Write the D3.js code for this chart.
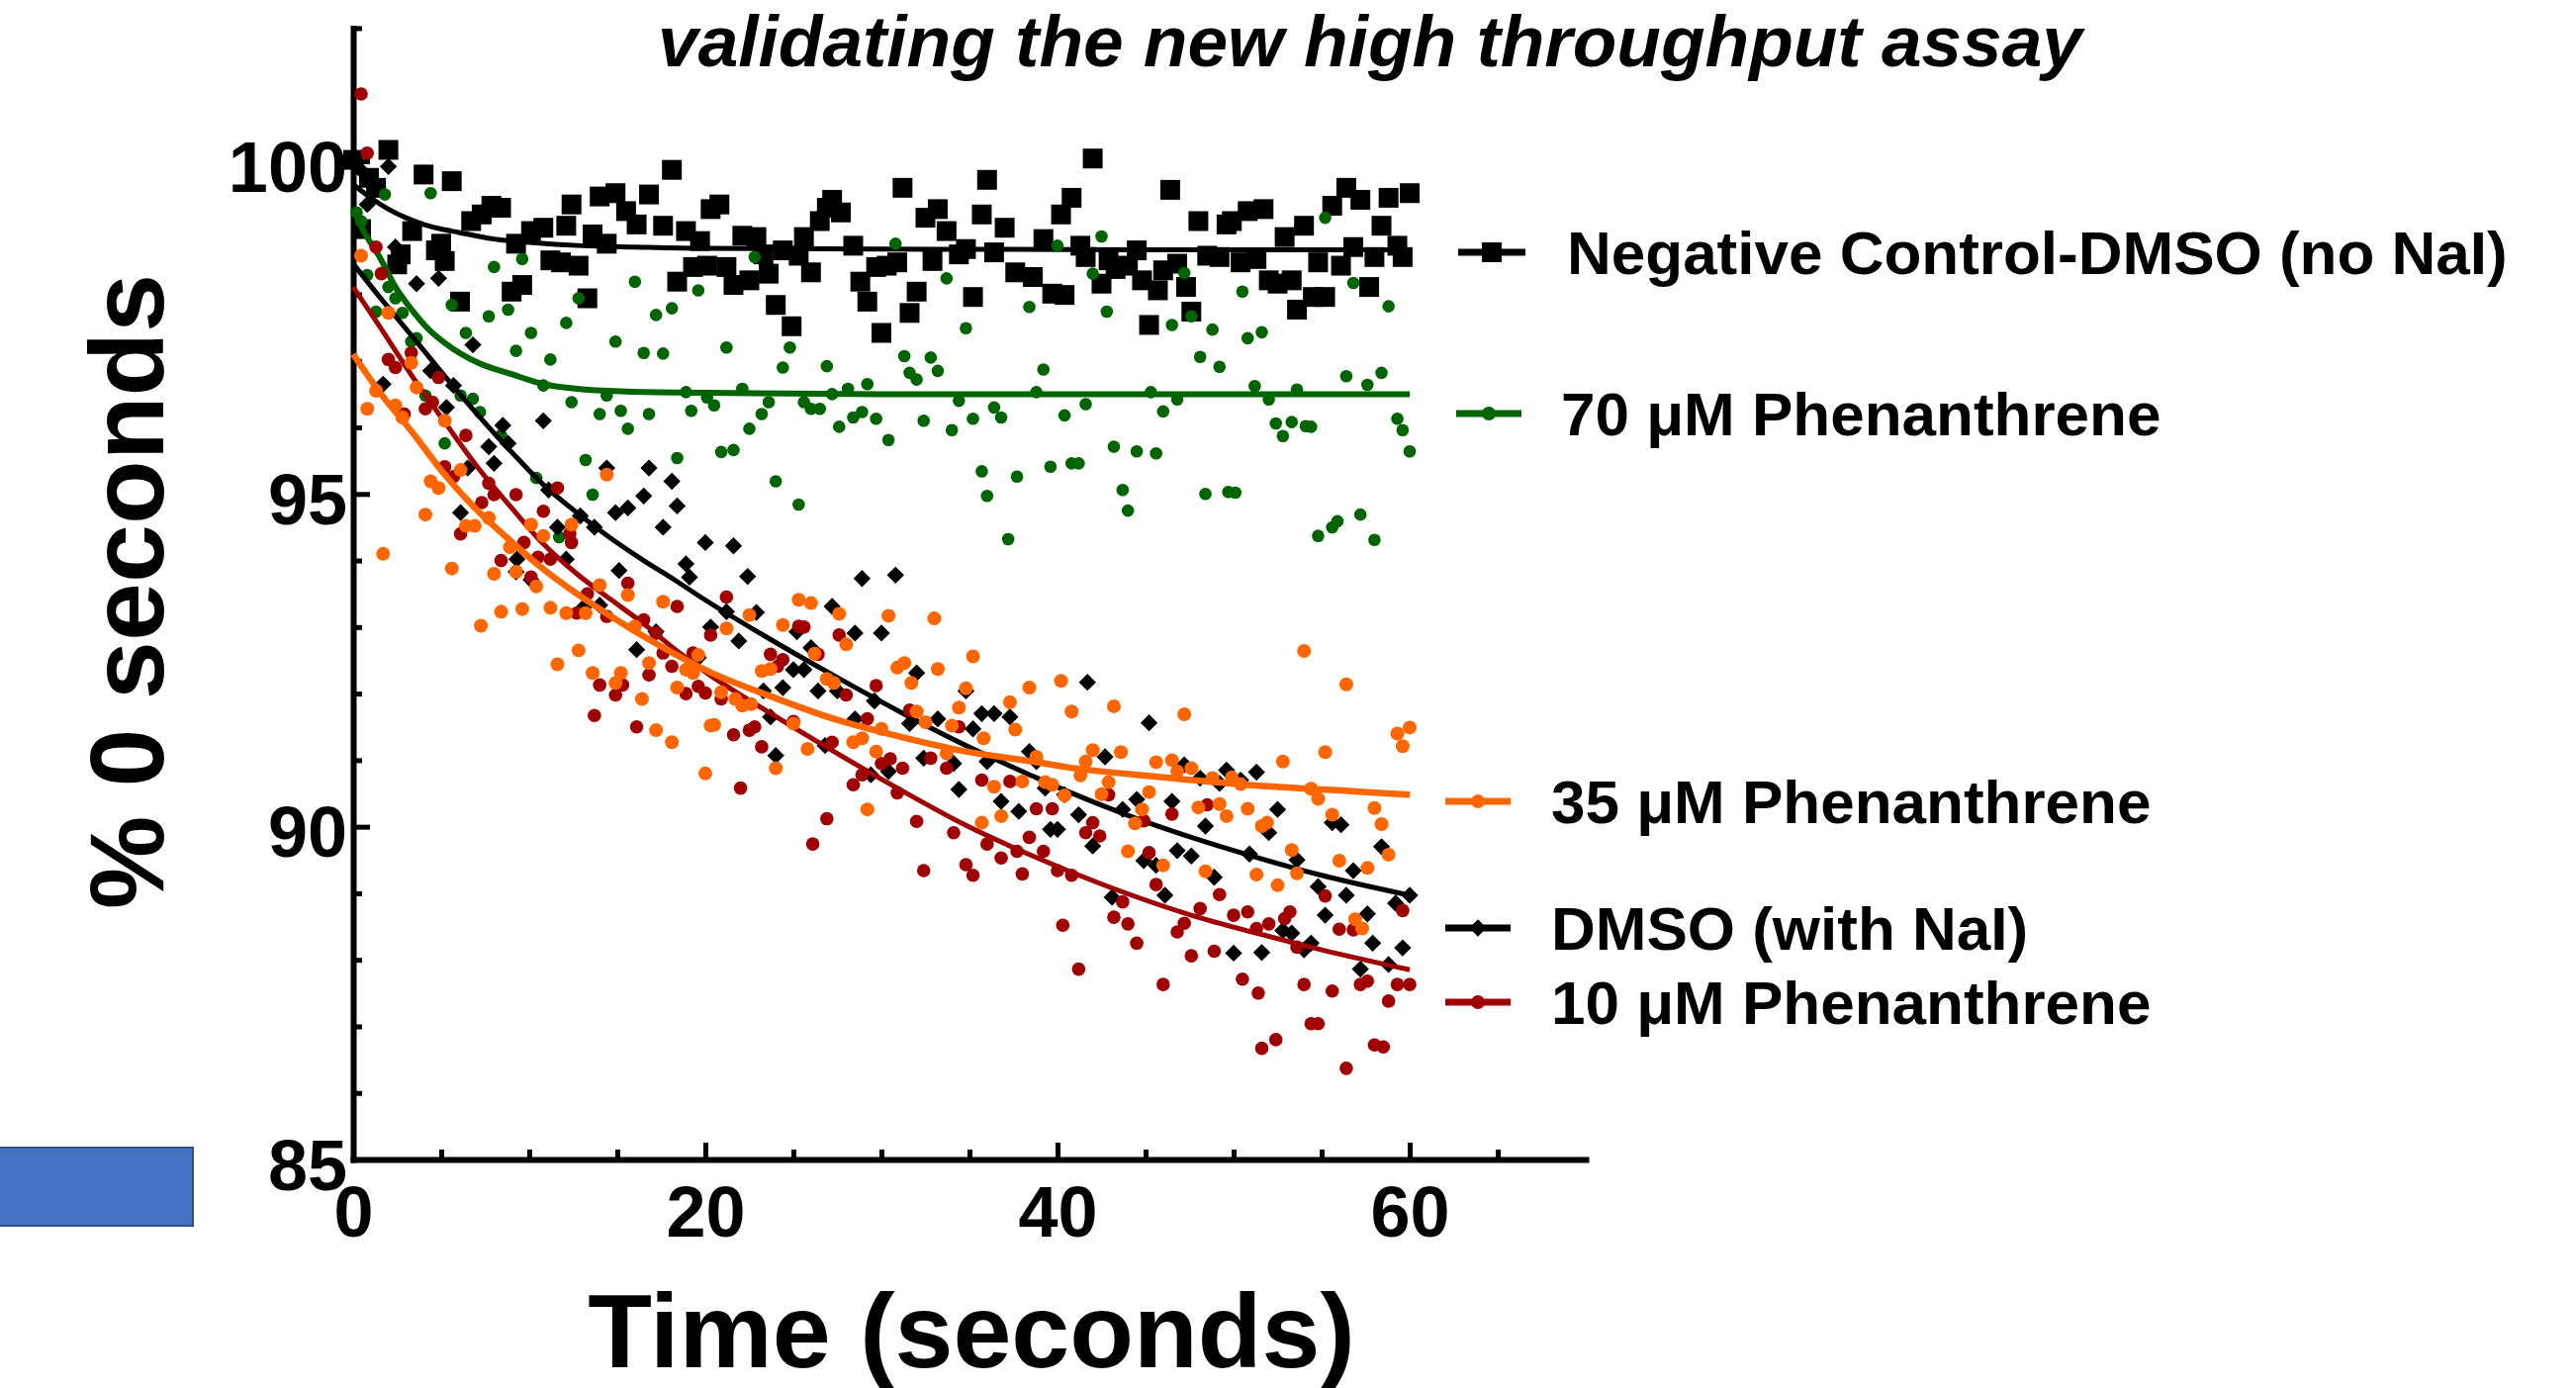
<!DOCTYPE html>
<html><head><meta charset="utf-8">
<script src="https://cdn.jsdelivr.net/npm/d3@7"></script>
<style>
html,body{margin:0;padding:0;background:#fff;}
svg{display:block;}
text{font-family:"Liberation Sans",Arial,Helvetica,sans-serif;font-weight:bold;fill:#000;}
</style>
</head><body>
<svg id="chart" width="2604" height="1403"></svg>
<script>
// ---------------- DATA ----------------
const chartTitle = "validating the new high throughput assay";
const xAxisTitle = "Time (seconds)";
const yAxisTitle = "% 0 seconds";
const xMajorTicks = [0, 20, 40, 60];
const xMinorTicks = [5, 10, 15, 25, 30, 35, 45, 50, 55, 65];
const yMajorTicks = [85, 90, 95, 100];
const yMinorTicks = [86, 87, 88, 89, 91, 92, 93, 94, 96, 97, 98, 99, 101, 102];
const legendLabels = ["Negative Control-DMSO (no NaI)", "70 \u03bcM Phenanthrene", "35 \u03bcM Phenanthrene", "DMSO (with NaI)", "10 \u03bcM Phenanthrene"];

const negControl = [[0,100.02],[0.45,98.98],[0.9,99.75],[1.3,99.6],[2.0,100.17],[2.5,98.45],[2.7,98.6],[3.35,98.95],[4.0,99.8],[4.7,98.66],[5.0,98.76],[5.2,98.5],[5.6,99.7],[6.07,97.89],[6.7,99.1],[7.3,99.2],[7.85,99.33],[8.4,99.3],[9.0,98.04],[9.25,98.76],[9.6,98.14],[10.1,98.95],[10.8,99.0],[11.2,98.51],[11.8,98.48],[12.1,99.03],[12.4,99.35],[12.8,98.43],[13.3,97.94],[13.6,98.9],[14.0,99.47],[14.4,98.76],[14.9,99.52],[15.5,99.25],[16.1,99.05],[16.8,99.5],[17.6,99.03],[18.1,99.87],[18.4,98.19],[18.9,98.95],[19.3,98.41],[19.7,98.8],
[20.1,98.43],[20.3,99.28],[20.8,99.35],[21.2,98.41],[21.6,98.14],[22.1,98.88],[22.5,98.21],[22.9,98.86],[23.3,98.6],[23.6,98.31],[24.0,97.84],[24.4,98.66],[24.9,97.52],[25.3,98.58],[25.6,98.86],[26.0,98.33],[26.5,99.1],[26.9,99.3],[27.2,99.42],[27.7,99.23],[28.4,98.73],[28.8,98.19],[29.2,97.89],[29.7,98.41],[30.0,97.42],[30.3,98.43],[30.9,98.48],[31.2,99.6],[31.6,97.72],[32.0,98.04],[32.5,99.15],[32.9,98.5],[33.2,99.28],[33.7,98.95],[34.4,98.6],[34.8,98.68],[35.2,97.96],[35.7,99.2],[36.0,99.72],[36.4,98.63],[37.0,99.0],[37.6,98.33],[38.6,98.26],[39.2,98.83],[39.7,98.01],
[40.2,99.2],[40.4,97.99],[40.8,99.45],[41.3,98.73],[41.6,98.56],[42.0,100.04],[42.5,98.16],[42.9,98.51],[43.3,98.38],[44.0,98.43],[44.5,98.66],[44.8,98.21],[45.2,97.54],[45.7,98.06],[46.0,98.36],[46.4,99.57],[46.8,98.46],[47.3,98.11],[47.6,97.74],[48.0,99.1],[48.5,98.58],[49.2,98.56],[49.6,99.05],[49.9,99.1],[50.4,98.48],[50.8,99.25],[51.3,98.53],[51.7,99.28],[52.0,98.21],[52.5,98.16],[52.9,98.86],[53.3,98.21],[53.6,97.77],[54.0,99.03],[54.5,97.96],[54.8,98.48],[55.2,97.96],[55.6,99.33],[56.1,98.43],[56.4,99.6],[56.8,98.71],[57.2,99.42],[57.7,98.11],[58.0,98.56],[58.4,99.03],[58.8,99.45],[59.3,98.73],[59.6,98.56],[60.0,99.52]];

const phen70 = [[0.2,99.23],[0.45,99.1],[0.8,98.29],[1.3,97.74],[1.8,99.5],[2.0,98.11],[2.4,97.94],[2.8,97.72],[3.3,97.29],[3.6,97.34],[4.1,96.48],[4.4,99.52],[5.2,95.76],[5.6,97.84],[6.1,96.48],[6.4,97.42],[6.8,96.43],[7.2,96.23],[7.7,97.67],[8.0,98.41],[8.4,95.88],[8.8,97.77],[9.25,97.15],[9.6,98.53],[10.1,97.42],[10.4,95.24],[10.8,96.63],[11.2,97.02],[11.7,94.35],[12.1,97.57],[12.4,96.38],[12.8,97.94],[13.2,95.51],[13.6,94.99],[14.0,96.2],[14.4,96.48],[14.9,97.29],[15.2,96.25],[15.6,95.98],[16.0,98.19],[16.5,97.12],[16.8,96.2],[17.2,97.69],[17.6,97.11],[18.1,97.79],[18.4,95.54],[18.9,96.53],[19.2,96.25],[19.6,98.06],[20.1,96.45],[20.5,96.33],[20.9,95.63],[21.2,97.2],[21.6,95.66],[22.1,96.58],[22.5,95.98],[22.8,98.56],[23.2,96.2],[23.6,96.38],[24.0,95.19],[24.4,96.9],[24.8,97.2],[25.3,94.84],[25.6,96.38],[26.0,96.28],[26.5,96.28],[26.9,96.92],[27.2,96.5],[27.6,96.01],[28.1,96.58],[28.4,96.15],[28.9,96.23],[29.2,96.65],[29.7,96.13],[30.4,95.81],[30.8,98.76],[31.3,97.07],[31.6,96.82],[32.0,96.72],[32.4,96.1],[32.8,97.05],[33.2,96.85],[33.7,98.24],[34.0,95.96],[34.4,96.4],[34.8,97.49],[35.2,96.13],[35.7,95.34],[36.0,94.97],[36.4,96.3],[36.8,96.15],[37.2,94.32],[37.7,95.26],[38.4,97.81],[38.8,96.53],[39.2,96.87],[39.6,95.41],[40.0,98.73],[40.4,96.18],[40.8,95.46],[41.2,95.46],[41.6,96.35],[42.0,98.31],[42.5,98.87],[42.8,97.74],[43.2,95.71],[43.7,95.06],[44.0,94.75],[44.5,95.64],[45.3,96.53],[45.6,95.61],[46.0,96.24],[46.5,97.54],[46.8,96.42],[47.2,98.32],[47.6,97.67],[48.1,97.06],[48.4,95.0],[48.8,97.47],[49.2,96.91],[49.7,95.03],[50.1,95.02],[50.5,98.04],[50.8,97.34],[51.2,96.62],[51.6,97.43],[52.0,96.42],[52.4,96.06],[52.8,95.87],[53.3,96.08],[53.6,96.57],[54.1,96.02],[54.4,96.01],[54.8,94.37],[55.2,99.15],[55.6,94.5],[55.9,94.59],[56.4,96.77],[56.8,98.17],[57.2,94.69],[57.6,96.64],[58.0,94.31],[58.4,96.82],[58.8,97.82],[59.3,96.13],[59.6,95.96],[60.0,95.64]];

const phen35 = [[0.45,98.58],[0.8,96.28],[1.3,96.55],[1.7,94.1],[2.0,97.72],[2.4,96.33],[2.8,96.15],[3.3,96.97],[3.6,96.6],[4.1,94.69],[4.4,95.19],[4.85,95.09],[5.2,96.1],[5.6,93.88],[6.1,95.36],[6.4,94.52],[6.9,94.52],[7.25,93.02],[7.7,94.64],[8.0,93.8],[8.4,93.23],[8.9,94.2],[9.25,93.83],[9.6,93.27],[10.1,94.54],[10.4,93.61],[10.8,94.37],[11.2,93.29],[11.6,92.44],[12.1,93.21],[12.4,94.54],[12.8,92.65],[13.2,93.21],[13.6,92.31],[14.0,93.63],[14.4,95.29],[14.9,92.16],[15.2,92.31],[15.6,93.48],[16.0,93.01],[16.4,91.92],[16.8,92.46],[17.2,91.45],[17.6,93.38],[18.1,91.27],[18.4,92.09],[18.9,92.36],[19.3,92.31],[19.6,92.58],[20.0,90.8],[20.3,91.52],
[20.5,91.53],[20.9,92.02],[21.2,92.98],[21.7,91.92],[22.1,91.82],[22.5,93.18],[22.6,91.84],[23.2,92.34],[23.7,92.37],[24.0,90.88],[24.4,93.03],[25.0,91.55],[25.3,93.41],[25.8,91.17],[26.0,93.36],[26.2,92.6],[26.9,92.22],[27.3,92.16],[27.6,93.2],[28.0,92.74],[28.4,91.27],[28.9,91.33],[29.2,90.26],[29.7,91.13],[30.0,91.47],[30.4,93.17],[30.9,92.39],[31.3,92.46],[31.7,92.16],[32.0,91.73],[32.5,91.57],[33.0,93.13],[33.2,92.37],[33.7,91.1],[34.0,91.52],[34.4,91.79],[34.8,92.08],[35.2,92.56],[35.7,90.06],[35.8,91.33],[36.4,90.6],[36.8,90.16],[37.3,91.87],[37.6,91.46],[38.0,90.68],[38.4,92.09],[38.8,91.05],[39.3,90.67],[39.7,90.63],
[40.2,92.19],[40.4,90.47],[40.8,91.73],[41.3,90.77],[41.6,90.98],[42.0,91.15],[42.5,90.49],[42.9,90.67],[43.2,91.81],[43.6,91.12],[44.0,89.63],[44.4,90.05],[44.8,90.26],[45.2,90.52],[45.6,90.97],[46.0,89.42],[46.5,91.0],[46.8,90.83],[47.2,91.69],[47.6,90.88],[48.0,90.29],[48.4,89.33],[48.8,90.73],[49.2,90.34],[49.6,90.16],[49.9,90.74],[50.4,90.64],[50.8,90.27],[51.3,89.28],[51.6,90.01],[51.9,90.06],[52.5,89.12],[52.8,90.98],[53.3,89.65],[53.6,89.3],[54.0,92.64],[54.4,90.57],[54.8,90.42],[55.2,91.12],[55.6,90.18],[56.0,89.49],[56.4,92.14],[56.9,88.61],[57.3,88.47],[57.6,89.38],[58.0,90.28],[58.4,90.04],[58.8,89.58],[59.3,91.4],[59.6,91.21],[60.0,91.49]];

const dmsoNaI = [[0.3,99.9],[0.8,99.35],[1.7,96.65],[2.0,99.92],[2.4,98.71],[3.6,98.16],[4.4,96.85],[4.85,98.24],[5.3,96.3],[5.7,96.63],[6.1,94.72],[6.5,95.39],[6.8,97.24],[7.7,95.71],[8.0,95.46],[8.5,96.03],[8.8,95.76],[9.25,93.83],[9.3,94.02],[10.1,93.71],[10.8,96.1],[11.1,95.06],[11.6,94.5],[12.1,94.02],[12.9,94.67],[13.1,93.3],[13.7,94.5],[14.0,93.33],[14.4,95.39],[14.9,94.72],[15.1,93.85],[15.6,94.79],[16.1,92.66],[16.5,94.97],[16.8,95.39],[17.2,92.93],[17.6,94.5],[18.1,95.19],[18.4,94.82],[18.9,93.95],[19.1,93.75],[19.6,92.54],[20.0,94.27],[20.3,93.0],
[21.2,93.23],[21.6,94.22],[21.9,92.79],[22.4,93.76],[22.9,93.22],[23.3,92.04],[23.7,91.65],[24.0,91.07],[24.4,92.09],[25.0,92.36],[25.2,92.93],[25.6,92.36],[26.0,92.69],[26.4,92.04],[26.8,91.22],[27.2,93.31],[27.5,92.04],[28.5,92.91],[28.5,91.62],[28.9,93.73],[29.4,90.78],[29.6,91.89],[30.0,92.91],[30.4,90.83],[30.8,93.78],[31.6,91.55],[32.0,92.31],[32.4,91.03],[33.2,91.62],[34.1,90.95],[34.4,90.56],[34.8,92.04],[35.2,91.47],[35.7,91.7],[36.0,90.98],[36.4,91.7],[36.8,90.38],[37.3,91.65],[37.8,90.23],[38.4,91.13],[38.8,90.98],[39.3,90.58],[39.6,89.96],[40.0,89.96],
[40.4,90.48],[41.2,90.18],[41.7,92.17],[42.0,89.71],[42.7,91.05],[43.1,88.94],[43.7,90.26],[44.5,90.41],[44.9,89.49],[45.2,91.56],[45.6,89.42],[46.1,88.97],[46.5,90.38],[46.8,89.64],[47.2,90.93],[47.6,89.56],[48.1,90.73],[48.4,90.01],[48.9,89.24],[49.2,90.65],[49.6,90.85],[50.0,88.1],[50.4,90.7],[50.9,89.59],[51.3,90.82],[51.6,88.11],[52.0,89.91],[52.5,90.26],[52.8,88.44],[53.3,88.4],[53.6,89.5],[54.0,88.15],[54.4,88.25],[54.8,89.1],[55.2,88.67],[55.6,90.06],[56.1,90.03],[56.4,88.97],[56.8,89.34],[57.2,87.86],[57.6,88.69],[57.9,88.25],[58.4,89.7],[58.8,87.93],[59.2,88.85],[59.6,88.18],[60.0,88.97]];

const phen10 = [[0.45,101.01],[0.8,100.12],[1.3,98.71],[1.6,98.31],[2.0,97.02],[2.4,96.9],[2.9,96.2],[3.3,97.12],[4.1,96.28],[4.5,96.38],[4.85,96.75],[5.2,95.41],[5.7,95.26],[6.1,94.4],[6.4,95.88],[7.3,94.87],[7.7,95.16],[8.0,94.99],[8.4,94.0],[9.25,94.99],[9.7,94.27],[10.1,93.75],[10.5,94.05],[10.8,94.74],[11.2,94.02],[11.6,95.09],[12.3,94.4],[12.4,94.27],
[12.7,93.21],[13.3,93.5],[13.7,91.67],[14.0,92.13],[14.4,93.16],[14.9,91.98],[15.3,92.13],[15.6,93.66],[16.1,91.5],[16.5,93.11],[16.8,92.28],[17.2,92.91],[17.6,92.61],[18.1,92.41],[18.4,93.31],[18.9,92.0],[19.3,92.61],[19.6,92.11],[20.0,92.01],[20.3,92.88],
[20.9,91.92],[21.2,93.45],[21.6,91.38],[22.0,90.58],[22.5,91.45],[22.8,91.5],[23.2,91.2],[23.7,92.59],[24.1,92.41],[24.4,92.51],[25.0,91.58],[25.3,93.01],[25.6,93.0],[26.1,89.74],[26.4,92.59],[26.9,90.12],[27.2,91.27],[27.6,92.88],[28.0,91.98],[28.4,90.63],[28.9,90.78],[29.2,91.62],[29.7,92.12],[30.0,90.95],[30.5,91.02],[30.9,90.51],[31.2,90.88],[31.6,91.75],[32.0,90.08],[32.4,89.34],[32.8,91.03],[33.7,90.88],[34.1,89.91],[34.4,91.5],[34.8,89.43],[35.2,89.27],[35.7,90.7],[36.0,89.74],[36.8,89.53],[37.3,90.68],[37.7,89.63],[38.0,89.29],[38.4,89.84],[38.8,90.27],[39.2,89.63],[39.7,90.27],[40.0,89.34],[40.3,88.52],
[40.8,89.27],[41.2,87.86],[41.6,89.91],[42.0,90.06],[42.4,89.86],[42.9,90.48],[43.2,88.64],[43.7,88.87],[44.0,88.54],[44.5,88.25],[44.9,90.09],[45.2,89.61],[45.6,89.13],[46.0,87.63],[46.5,90.19],[46.8,88.42],[47.2,88.55],[47.6,88.06],[48.1,88.77],[48.5,90.33],[48.9,88.13],[49.2,88.98],[50.0,88.67],[50.5,87.71],[50.8,88.72],[51.3,88.47],[51.4,87.5],[51.6,86.67],[52.0,88.54],[52.4,86.8],[52.9,88.62],[53.2,88.72],[53.6,88.19],[54.0,87.63],[54.4,87.04],[54.8,87.04],[55.2,88.96],[55.6,87.53],[56.0,88.46],[56.4,86.37],[56.8,88.45],[57.2,87.63],[57.6,87.68],[58.0,86.72],[58.5,86.69],[58.8,87.38],[59.3,87.63],[59.6,88.74],[60.0,87.63]];

// fitted curves
const negControlFit = [[0,99.65],[1,99.45],[2,99.28],[3,99.15],[4,99.05],[5,98.98],[6,98.93],[8,98.83],[10,98.78],[13,98.73],[16,98.71],[20,98.69],[30,98.68],[45,98.67],[60,98.67]];
const phen70Fit = [[0,99.28],[0.7,98.9],[1.5,98.56],[2.4,98.11],[3.35,97.76],[4.3,97.47],[5.2,97.27],[7.1,96.97],[9,96.8],[10.8,96.65],[12.7,96.58],[15.5,96.54],[20,96.52],[30,96.5],[60,96.5]];
const phen35Fit = [[0,97.1],[1.5,96.53],[3.35,95.93],[5.2,95.29],[7.1,94.74],[9,94.28],[10.8,93.87],[12.7,93.5],[14.6,93.17],[16.5,92.86],[18.3,92.59],[20.2,92.33],[23.6,91.97],[27.3,91.62],[31.1,91.35],[34.8,91.13],[38.6,90.98],[40.4,90.9],[45.7,90.75],[51.3,90.62],[56.9,90.53],[60,90.48]];
const dmsoNaIFit = [[0,98.46],[1.5,97.96],[3.35,97.37],[5.2,96.77],[7.1,96.18],[9,95.63],[10.8,95.14],[12.7,94.72],[14.6,94.34],[16.5,94.0],[18.3,93.7],[19.8,93.44],[23.6,92.83],[27.3,92.27],[31.1,91.72],[34.8,91.22],[38.6,90.76],[40.4,90.55],[43.8,90.19],[47.6,89.84],[51.3,89.54],[55,89.27],[60,88.97]];
const phen10Fit = [[0,98.11],[1.5,97.52],[3.35,96.77],[5.2,96.08],[7.1,95.39],[9,94.79],[10.8,94.25],[12.7,93.8],[14.6,93.42],[16.5,93.05],[18.3,92.66],[20.2,92.29],[23.6,91.72],[27.3,91.13],[31.1,90.55],[34.8,90.02],[38.6,89.56],[40.4,89.36],[43.8,89.01],[47.6,88.67],[51.3,88.4],[55,88.15],[60,87.85]];

// ---------------- DRAW ----------------
const svg = d3.select("#chart");
svg.append("rect").attr("width", 2604).attr("height", 1403).attr("fill", "#fff");

const x = d3.scaleLinear().domain([0, 70]).range([357, 1603]);
const y = d3.scaleLinear().domain([85, 102]).range([1172, 28.4]);

const C = {neg: "#000000", g70: "#006400", o35: "#FF6600", dmso: "#000000", r10: "#A00000"};

// blue rectangle at bottom left
svg.append("rect").attr("x", -2).attr("y", 1160).attr("width", 197).attr("height", 79)
  .attr("fill", "#4472C4").attr("stroke", "#2F528F").attr("stroke-width", 2);

// axes
function styleAxis(g, tickW) {
  g.selectAll(".tick line").attr("stroke", "#000").attr("stroke-width", tickW);
  g.selectAll(".domain").attr("stroke", "#000").attr("stroke-width", 6).attr("stroke-linecap", "square");
}
const gyMin = svg.append("g").attr("transform", "translate(357,0)")
  .call(d3.axisLeft(y).tickValues(yMinorTicks).tickSize(-9).tickSizeOuter(0).tickFormat(""));
gyMin.select(".domain").remove(); styleAxis(gyMin, 5);
const gyMaj = svg.append("g").attr("transform", "translate(357,0)")
  .call(d3.axisLeft(y).tickValues(yMajorTicks).tickSize(-17).tickSizeOuter(0).tickPadding(6));
styleAxis(gyMaj, 5);
gyMaj.selectAll(".tick text").attr("font-size", 72).attr("font-family", "Liberation Sans, Arial, sans-serif")
  .attr("font-weight", "bold").attr("dy", "0.42em");

const gxMin = svg.append("g").attr("transform", "translate(0,1172)")
  .call(d3.axisBottom(x).tickValues(xMinorTicks).tickSize(-10).tickSizeOuter(0).tickFormat(""));
gxMin.select(".domain").remove(); styleAxis(gxMin, 5);
const gxMaj = svg.append("g").attr("transform", "translate(0,1172)")
  .call(d3.axisBottom(x).tickValues(xMajorTicks).tickSize(-17).tickSizeOuter(0).tickPadding(27));
styleAxis(gxMaj, 5);
gxMaj.selectAll(".tick text").attr("font-size", 72).attr("font-family", "Liberation Sans, Arial, sans-serif")
  .attr("font-weight", "bold");

// symbols
const sq = d3.symbol(d3.symbolSquare, 400)();
const dia = d3.symbol(d3.symbolSquare, 150)();
const line = d3.line().x(d => x(d[0])).y(d => y(d[1])).curve(d3.curveMonotoneX);

function drawSeries(data, fit, color, kind, r, lw) {
  const g = svg.append("g");
  if (kind === "square") {
    g.selectAll("path").data(data).join("path").attr("d", sq)
      .attr("transform", d => `translate(${x(d[0])},${y(d[1])})`).attr("fill", color);
  } else if (kind === "diamond") {
    g.selectAll("path").data(data).join("path").attr("d", dia)
      .attr("transform", d => `translate(${x(d[0])},${y(d[1])}) rotate(45)`).attr("fill", color);
  } else {
    g.selectAll("circle").data(data).join("circle").attr("cx", d => x(d[0])).attr("cy", d => y(d[1]))
      .attr("r", r).attr("fill", color);
  }
  svg.append("path").datum(fit).attr("d", line).attr("fill", "none").attr("stroke", color).attr("stroke-width", lw);
}
drawSeries(negControl, negControlFit, C.neg, "square", 0, 5);
drawSeries(phen70, phen70Fit, C.g70, "circle", 6.3, 6);
drawSeries(dmsoNaI, dmsoNaIFit, C.dmso, "diamond", 0, 5);
drawSeries(phen10, phen10Fit, C.r10, "circle", 6.8, 5);
drawSeries(phen35, phen35Fit, C.o35, "circle", 7, 6.5);

// legend
const legendPos = [
  {x1: 1474, x2: 1542, y: 255, tx: 1584, kind: "square", color: C.neg},
  {x1: 1472, x2: 1538, y: 418, tx: 1578, kind: "circle", color: C.g70},
  {x1: 1461, x2: 1527, y: 810, tx: 1568, kind: "circle", color: C.o35},
  {x1: 1461, x2: 1527, y: 938, tx: 1568, kind: "diamond", color: C.dmso},
  {x1: 1461, x2: 1527, y: 1013, tx: 1568, kind: "circle", color: C.r10}
];
legendPos.forEach((p, i) => {
  const g = svg.append("g");
  g.append("line").attr("x1", p.x1).attr("x2", p.x2).attr("y1", p.y).attr("y2", p.y)
    .attr("stroke", p.color).attr("stroke-width", 7);
  const cx = (p.x1 + p.x2) / 2;
  if (p.kind === "square") g.append("path").attr("d", d3.symbol(d3.symbolSquare, 400)()).attr("transform", `translate(${cx},${p.y})`).attr("fill", p.color);
  else if (p.kind === "diamond") g.append("path").attr("d", dia).attr("transform", `translate(${cx},${p.y}) rotate(45)`).attr("fill", p.color);
  else g.append("circle").attr("cx", cx).attr("cy", p.y).attr("r", 7).attr("fill", p.color);
  g.append("text").attr("x", p.tx).attr("y", p.y).attr("dy", "0.36em").attr("font-size", 62).text(legendLabels[i]);
});

// titles
svg.append("text").attr("x", 1385).attr("y", 67).attr("text-anchor", "middle")
  .attr("font-size", 73).attr("font-style", "italic").text(chartTitle);
svg.append("text").attr("x", 982).attr("y", 1382).attr("text-anchor", "middle")
  .attr("font-size", 106).text(xAxisTitle);
svg.append("text").attr("transform", "translate(165,598) rotate(-90)").attr("text-anchor", "middle")
  .attr("font-size", 106).text(yAxisTitle);
</script>
</body></html>
